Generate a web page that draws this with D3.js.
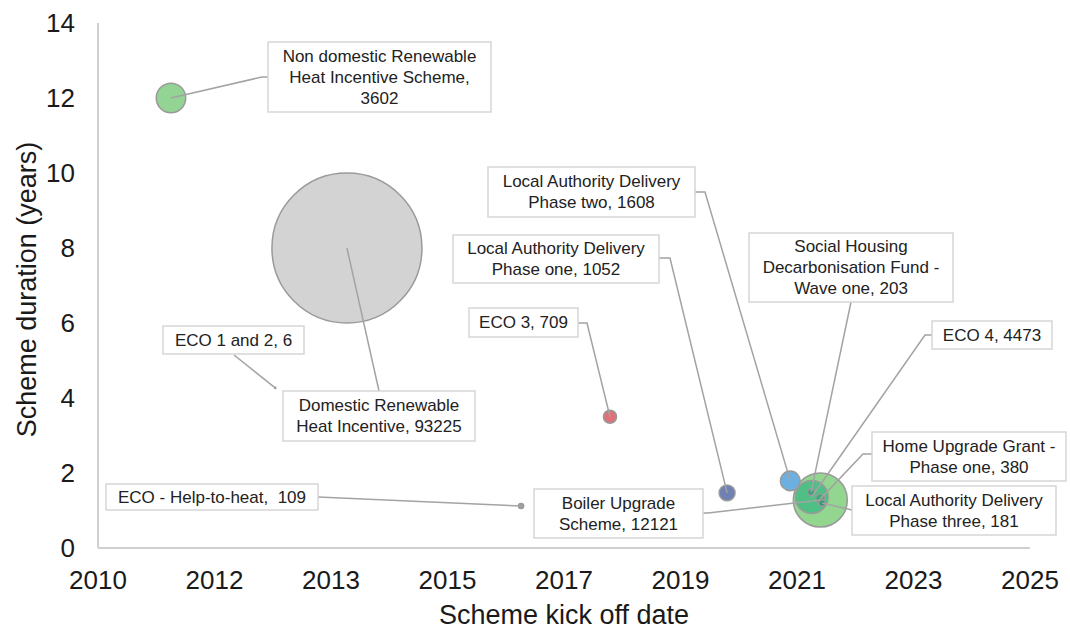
<!DOCTYPE html>
<html>
<head>
<meta charset="utf-8">
<script src="https://cdn.jsdelivr.net/npm/d3@7"></script>
<style>
  body { margin: 0; background: #fff; }
  text { font-family: "Liberation Sans", Arial, sans-serif; }
</style>
</head>
<body>
<svg id="chart" width="1070" height="630"></svg>
<script>
// scheme data (kick off as decimal year on the chart's date axis, duration in years, size = households)
var schemes = ["Domestic Renewable Heat Incentive", "Boiler Upgrade Scheme", "ECO 4",
  "Non domestic Renewable Heat Incentive Scheme", "Local Authority Delivery Phase two",
  "Local Authority Delivery Phase one", "ECO 3", "Home Upgrade Grant - Phase one",
  "Social Housing Decarbonisation Fund - Wave one", "Local Authority Delivery Phase three",
  "ECO - Help-to-heat", "ECO 1 and 2"];
var kickoff  = [2014.21, 2021.93, 2021.79, 2011.34, 2021.44, 2020.41, 2018.50, 2021.93, 2021.78, 2021.96, 2017.05, 2013.04];
var duration = [8.0, 1.28, 1.36, 12.0, 1.79, 1.47, 3.5, 1.31, 1.49, 1.2, 1.12, 4.27];
var households = [93225, 12121, 4473, 3602, 1608, 1052, 709, 380, 203, 181, 109, 6];
var fills = ["#d3d3d3", "#93d68f", "#4fbf86", "#93d393", "#6cb0e2", "#6f80b4", "#e07179", "#3fa878", "#3aa07a", "#2f9a74", "#a0a0a0", "#a0a0a0"];

var xTickValues = [2010.15, 2012.05, 2013.95, 2015.85, 2017.75, 2019.65, 2021.55, 2023.45, 2025.35];
var xTickLabels = ["2010", "2012", "2013", "2015", "2017", "2019", "2021", "2023", "2025"];
var yTickValues = [0, 2, 4, 6, 8, 10, 12, 14];

// label boxes: left, top, width, height, text lines, leader anchor on box and optional elbow
var labelLayout = [
  {i: 0, x: 283, y: 391, w: 192, h: 50, lines: ["Domestic Renewable", "Heat Incentive, 93225"], ax: 379, ay: 391},
  {i: 1, x: 534, y: 489, w: 169, h: 49, lines: ["Boiler Upgrade", "Scheme, 12121"], ax: 708, ay: 513, ex: 703},
  {i: 2, x: 932, y: 321, w: 120, h: 28, lines: ["ECO 4, 4473"], ax: 925, ay: 335, ex: 932},
  {i: 3, x: 268, y: 42, w: 223, h: 70, lines: ["Non domestic Renewable", "Heat Incentive Scheme,", "3602"], ax: 262, ay: 77, ex: 268},
  {i: 4, x: 488, y: 167, w: 207, h: 50, lines: ["Local Authority Delivery", "Phase two, 1608"], ax: 705, ay: 192, ex: 695},
  {i: 5, x: 453, y: 235, w: 206, h: 48, lines: ["Local Authority Delivery", "Phase one, 1052"], ax: 670, ay: 258, ex: 659},
  {i: 6, x: 469, y: 308, w: 109, h: 29, lines: ["ECO 3, 709"], ax: 587, ay: 323, ex: 578},
  {i: 7, x: 872, y: 432, w: 194, h: 49, lines: ["Home Upgrade Grant -", "Phase one, 380"], ax: 863, ay: 454, ex: 872},
  {i: 8, x: 749, y: 233, w: 204, h: 69, lines: ["Social Housing", "Decarbonisation Fund -", "Wave one, 203"], ax: 851, ay: 302},
  {i: 9, x: 852, y: 486, w: 204, h: 49, lines: ["Local Authority Delivery", "Phase three, 181"], ax: 852, ay: 510},
  {i: 10, x: 106, y: 484, w: 212, h: 26, lines: ["ECO - Help-to-heat,\u00a0 109"], ax: 318, ay: 497},
  {i: 11, x: 163, y: 326, w: 141, h: 28, lines: ["ECO 1 and 2, 6"], ax: 234, ay: 355}
];

var svg = d3.select("#chart");

var x = d3.scaleLinear().domain([2010.15, 2025.35]).range([98, 1030]);
var y = d3.scaleLinear().domain([0, 14]).range([548, 23]);
var r = d3.scaleSqrt().domain([0, 93225]).range([0, 75]);

// axes lines only, no tick marks
svg.append("line").attr("x1", x(2010.15)).attr("x2", x(2025.35)).attr("y1", y(0)).attr("y2", y(0))
  .attr("stroke", "#d0d0d0").attr("stroke-width", 2);
svg.append("line").attr("x1", x(2010.15)).attr("x2", x(2010.15)).attr("y1", y(0)).attr("y2", y(14))
  .attr("stroke", "#d0d0d0").attr("stroke-width", 2);

svg.selectAll("text.xtick")
  .data(xTickValues)
  .enter().append("text")
  .attr("class", "xtick")
  .attr("x", d => x(d))
  .attr("y", y(0) + 41)
  .attr("text-anchor", "middle")
  .attr("font-size", "26px")
  .attr("fill", "#1a1a1a")
  .text((d, i) => xTickLabels[i]);

svg.selectAll("text.ytick")
  .data(yTickValues)
  .enter().append("text")
  .attr("class", "ytick")
  .attr("x", 75)
  .attr("y", d => y(d))
  .attr("dy", "0.35em")
  .attr("text-anchor", "end")
  .attr("font-size", "26px")
  .attr("fill", "#1a1a1a")
  .text(d => d);

svg.append("text")
  .attr("x", (x(2010.15) + x(2025.35)) / 2)
  .attr("y", 624)
  .attr("text-anchor", "middle")
  .attr("font-size", "27px")
  .attr("fill", "#1a1a1a")
  .text("Scheme kick off date");

svg.append("text")
  .attr("transform", "translate(36," + ((y(0) + y(14)) / 2 + 4) + ") rotate(-90)")
  .attr("text-anchor", "middle")
  .attr("font-size", "27px")
  .attr("fill", "#1a1a1a")
  .text("Scheme duration (years)");

// bubbles, biggest first so small ones stay visible
var idx = d3.range(schemes.length).sort((a, b) => households[b] - households[a]);

svg.append("g").selectAll("circle")
  .data(idx)
  .enter().append("circle")
  .attr("cx", i => x(kickoff[i]))
  .attr("cy", i => y(duration[i]))
  .attr("r", i => r(households[i]))
  .attr("fill", i => fills[i])
  .attr("stroke", "#9a9a9a")
  .attr("stroke-width", 1.5);

// leader lines
var leaders = svg.append("g");
labelLayout.forEach(function(l) {
  var pts = [[x(kickoff[l.i]), y(duration[l.i])], [l.ax, l.ay]];
  if (l.ex != null) pts.push([l.ex, l.ay]);
  leaders.append("path")
    .attr("d", d3.line()(pts))
    .attr("fill", "none")
    .attr("stroke", "#a3a3a3")
    .attr("stroke-width", 1.5);
});

// label boxes
var boxes = svg.append("g").selectAll("g")
  .data(labelLayout)
  .enter().append("g");

boxes.append("rect")
  .attr("x", d => d.x).attr("y", d => d.y)
  .attr("width", d => d.w).attr("height", d => d.h)
  .attr("fill", "#fff")
  .attr("stroke", "#d6d6d6")
  .attr("stroke-width", 1.5);

boxes.each(function(d) {
  var t = d3.select(this).append("text")
    .attr("text-anchor", "middle")
    .attr("font-size", "17px")
    .attr("fill", "#222");
  var lh = 21;
  var top = d.y + d.h / 2 - (d.lines.length - 1) * lh / 2;
  d.lines.forEach(function(s, k) {
    t.append("tspan")
      .attr("x", d.x + d.w / 2)
      .attr("y", top + k * lh)
      .attr("dy", "0.35em")
      .text(s);
  });
});
</script>
</body>
</html>
